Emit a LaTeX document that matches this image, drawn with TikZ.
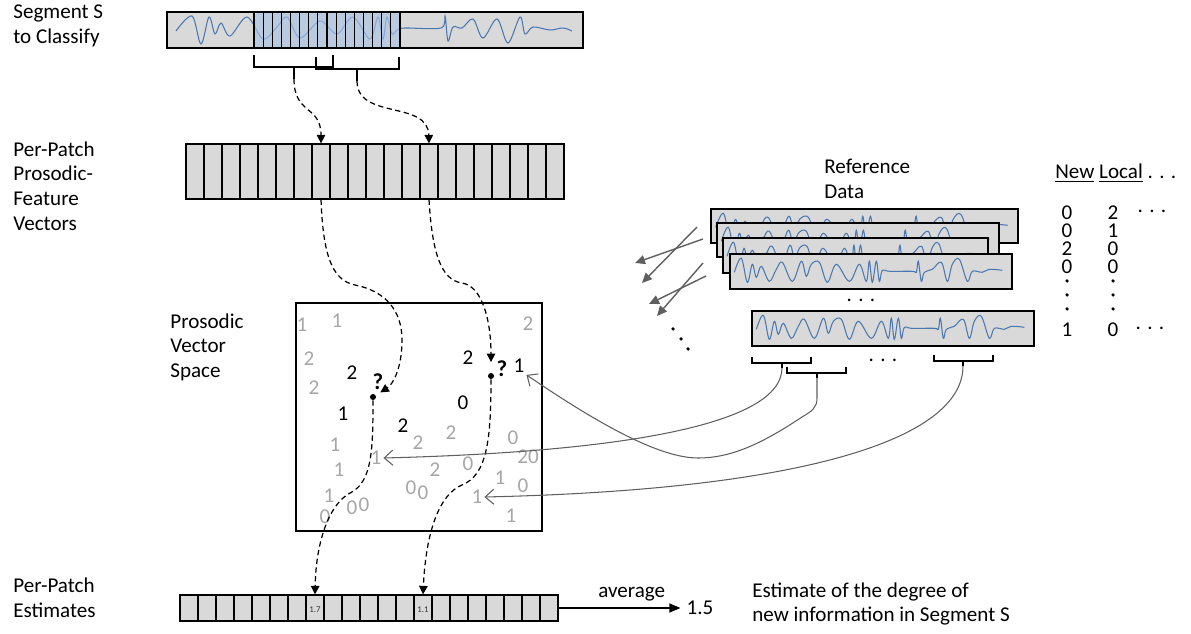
\documentclass[tikz,border=0pt]{standalone}
\usepackage{fontspec}
\setmainfont{Carlito}
\usepackage{tikz}
\usepackage{xcolor}
\usetikzlibrary{arrows.meta, positioning}
\definecolor{boxgray}{RGB}{217,217,217}
\definecolor{waveblue}{RGB}{74,120,178}
\definecolor{patchblue}{RGB}{170,196,228}
\definecolor{numgray}{RGB}{166,166,166}
\definecolor{linkgray}{RGB}{95,95,95}
\tikzstyle{strip} = [rectangle, draw=black, fill=boxgray, line width=0.8pt, inner sep=0pt]
\tikzstyle{cell} = [rectangle, draw=black, fill=boxgray, line width=0.7pt, inner sep=0pt, minimum width=0.36cm]
\tikzstyle{segpatch} = [rectangle, draw=black, fill=patchblue, fill opacity=0.65, line width=0.7pt, inner sep=0pt, minimum width=0.1825cm, minimum height=0.72cm]
\tikzstyle{sidetext} = [anchor=west, align=left, inner sep=0pt]
\tikzstyle{graynum} = [text=numgray, inner sep=1pt]
\tikzstyle{blacknum} = [text=black, inner sep=1pt]
\tikzstyle{tabnum} = [text=black, inner sep=0pt]
\tikzstyle{tabcol} = [text=black, inner sep=0pt, align=center, font=\fontsize{12}{10.2}\selectfont]
\tikzstyle{smalldot} = [circle, fill=black, inner sep=0pt, minimum size=2pt]
\tikzstyle{query} = [circle, fill=black, inner sep=0pt, minimum size=0.12cm]
\tikzstyle{flow} = [dash pattern=on 3pt off 2pt, line width=0.7pt, -{Triangle[length=1.7mm,width=1.7mm]}]
\tikzstyle{match} = [draw=linkgray, line width=0.6pt, -{Straight Barb[length=1.7mm,width=3mm]}]
\tikzstyle{spread} = [draw=linkgray, line width=0.8pt, -{Triangle[length=2mm,width=1.8mm]}]
\tikzstyle{arrow} = [line width=0.7pt, -{Triangle[length=2.2mm,width=1.8mm]}]
\tikzstyle{wave} = [draw=waveblue, line width=0.6pt]
\tikzstyle{bracket} = [line width=1.1pt]
\tikzset{refwave/.pic={
    \draw[wave] plot[smooth, tension=0.6] coordinates {(5,19) (12,5) (18,29) (23,11) (27,24) (32,13) (40,28) (47,16) (53,9) (63,28) (72,8) (77,23) (82,11) (90,9) (98,29) (107,11) (120,28) (130,11) (137,28) (140,8) (143,29) (147,8) (150,28) (153,17) (160,18) (183,18) (187,19) (189,8) (192,28) (195,19) (203,16) (212,9) (218,28) (223,11) (230,6) (238,28) (243,18) (253,19) (260,16) (273,17)};
}}

\begin{document}
\begin{tikzpicture}[x=0.02cm, y=-0.02cm, font=\fontsize{12}{14}\selectfont]
    \useasboundingbox (0,0) rectangle (1191,634);

        % Labels
        \node (lblseg) [sidetext] at (13,26) {Segment S\\to Classify};
        \node (lblfeat) [sidetext] at (13,186) {Per-Patch\\Prosodic-\\Feature\\Vectors};
        \node (lblspace) [sidetext] at (170,347) {Prosodic\\Vector\\Space};
        \node (lblest) [sidetext] at (13,598) {Per-Patch\\Estimates};
        \node (lblref) [sidetext] at (824,179) {Reference\\Data};

        % Segment S
        \node (seg) [strip, minimum width=8.32cm, minimum height=0.72cm] at (375,30) {};
        \draw[wave] plot[smooth, tension=0.55] coordinates {(176,31) (192,16) (201,44) (209,17) (215,34) (221,23) (230,36) (247,17) (263,39) (277,27) (287,17) (300,38) (320,21) (337,34) (353,17) (370,39) (378,17) (383,39) (387,17) (392,34) (397,30) (405,28) (441,28) (445,16) (448,41) (453,27) (462,28) (473,19) (483,38) (497,19) (508,43) (520,17) (525,34) (533,27) (550,30) (563,28) (572,31)};
        \foreach \i in {1,...,16}
            \node (p\i) [segpatch] at ({254+(\i-0.5)*9.125},30) {};
        \draw[bracket] (254,55) -- (254,67) -- (333,67) -- (333,55);
        \draw[bracket] (294,67) -- (294,79) coordinate (ta);
        \draw[bracket] (316,57) -- (316,69) -- (399,69) -- (399,57);
        \draw[bracket] (357,69) -- (357,81) coordinate (tb);

        % Feature vectors
        \foreach \i in {1,...,21}
            \node (f\i) [cell, minimum height=1.1cm] at ({186+(\i-0.5)*18},171.5) {};

        % Vector space
        \node (space) [rectangle, draw=black, line width=0.8pt, minimum width=4.92cm, minimum height=4.56cm] at (419,417) {};
        \foreach \x/\y/\val [count=\i] in {302/325/1, 337/321/1, 528/324/2, 309/359/2, 314/388/2, 335/445/1, 339/470/1, 329/496/1, 325/517/0, 352/508/0, 364/505/0, 418/443/2, 451/433/2, 435/470/2, 411/488/0, 423/493/0, 468/464/0, 513/438/0, 528/457/20, 500/478/1, 523/486/0, 511/516/1}
            \node (g\i) [graynum] at (\x,\y) {\val};
        \foreach \x/\y/\val [count=\i] in {352/373/2, 343/414/1, 403/426/2, 463/403/0, 468/358/2}
            \node (b\i) [blacknum] at (\x,\y) {\val};
        \node (hitA) [graynum] at (376,458) {1};
        \node (hitB) [blacknum] at (519,366) {1};
        \node (hitC) [graynum] at (477,497) {1};
        \node (qmarkA) [blacknum, font=\fontsize{13}{14}\bfseries] at (378,382) {?};
        \node (qmarkB) [blacknum, font=\fontsize{13}{14}\bfseries] at (502,369) {?};
        \node (qa) [query] at (373,397) {};
        \node (qb) [query] at (491,376) {};

        % Estimates
        \foreach \i in {1,...,21}
            \node (e\i) [cell, minimum height=0.52cm] at ({180+(\i-0.5)*18},608) {};
        \node (v8) [font=\fontsize{5}{6}\selectfont, text=black!80, yshift=-1pt] at (e8) {1.7};
        \node (v14) [font=\fontsize{5}{6}\selectfont, text=black!80, yshift=-1pt] at (e14) {1.1};
        \node (result) at (700,608) {1.5};
        \node (summary) [sidetext] at (752,604) {Estimate of the degree of\\new information in Segment S};

        % Reference data
        \node (ref1) [strip, minimum width=6.14cm, minimum height=0.68cm] at (864.5,226) {};
        \pic[xscale=1.089] at (ref1.north west) {refwave};
        \node (ref2) [strip, minimum width=5.64cm, minimum height=0.68cm] at (858,240) {};
        \pic at (ref2.north west) {refwave};
        \node (ref3) [strip, minimum width=5.3cm, minimum height=0.7cm] at (855.5,255.5) {};
        \pic[xscale=0.94] at (ref3.north west) {refwave};
        \node (ref4) [strip, minimum width=5.64cm, minimum height=0.7cm] at (871,271.5) {};
        \pic at (ref4.north west) {refwave};
        \node (more) at (861,300) {. . .};
        \node (ref5) [strip, minimum width=5.64cm, minimum height=0.7cm] at (893,328.5) {};
        \pic at (ref5.north west) {refwave};
        \draw[bracket, line width=0.9pt] (752,357) -- (752,363) -- (811,363) -- (811,357);
        \draw[bracket, line width=0.9pt] (782,363) -- (782,368) coordinate (ra);
        \draw[bracket, line width=0.9pt] (787,367) -- (787,373) -- (846,373) -- (846,367);
        \draw[bracket, line width=0.9pt] (817,373) -- (817,378) coordinate (rb);
        \node (gap) at (883,360) {. . .};
        \draw[bracket, line width=0.9pt] (934,355) -- (934,361) -- (993,361) -- (993,355);
        \draw[bracket, line width=0.9pt] (963,361) -- (963,366) coordinate (rc);
        \node (d1) [smalldot] at (673,329) {};
        \node (d2) [smalldot] at (681,339) {};
        \node (d3) [smalldot] at (688,349) {};

        % Table
        \node (head) [sidetext] at (1055,173) {\underline{New} \underline{Local} . . .};
        \node (newcol) [tabcol] at (1067,240) {0\\0\\2\\0};
        \node (loccol) [tabcol] at (1113,240) {2\\1\\0\\0};
        \node (newlast) [tabnum] at (1067,330) {1};
        \node (loclast) [tabnum] at (1113,330) {0};
        \node (rowmore1) [tabnum] at (1152,211) {. . .};
        \node (rowmore5) [tabnum] at (1150,328) {. . .};
        \foreach \y [count=\i] in {281,295,309} {
            \node (vn\i) [smalldot] at (1067,\y) {};
            \node (vl\i) [smalldot] at (1113,\y) {};
        }

        % Arrows
        \draw [flow] (ta) .. controls (294,115) and (321,105) .. (f8.north);
        \draw [flow] (tb) .. controls (357,120) and (428,100) .. (f14.north);
        \draw [flow, shorten >=3pt] (f8.south) .. controls (323,250) and (330,280) .. (355,285) .. controls (385,291) and (402,310) .. (402,340) .. controls (402,370) and (392,385) .. (qa);
        \draw [flow, shorten >=6pt] (f14.south) .. controls (432,250) and (440,280) .. (462,283) .. controls (482,286) and (491,320) .. (qb);
        \draw [flow] (qa.south) .. controls (373,450) and (372,480) .. (352,492) .. controls (330,502) and (316,540) .. (e8.north);
        \draw [flow] (qb.south) .. controls (491,440) and (487,475) .. (462,485) .. controls (440,494) and (426,530) .. (e14.north);
        \draw [match] (ra) .. controls (782,425) and (620,452) .. (hitA.east);
        \draw [match] (rb) -- (817,398) .. controls (817,408) and (812,411) .. (802,417) .. controls (760,445) and (730,458) .. (698,458) .. controls (660,458) and (600,425) .. (hitB.south east);
        \draw [match] (rc) .. controls (963,440) and (800,490) .. (hitC.east);
        \coordinate (s1) at (697,227); \coordinate (t1) at (642,283);
        \coordinate (s2) at (703,239); \coordinate (t2) at (635,263);
        \coordinate (s3) at (703,263); \coordinate (t3) at (657,316);
        \coordinate (s4) at (706,276); \coordinate (t4) at (649,304);
        \foreach \k in {1,...,4}
            \draw [spread] (s\k) -- (t\k);
        \draw [arrow] (e21.east) -- node[pos=0.6, above] {average} (result.west);

    \end{tikzpicture}
\end{document}
